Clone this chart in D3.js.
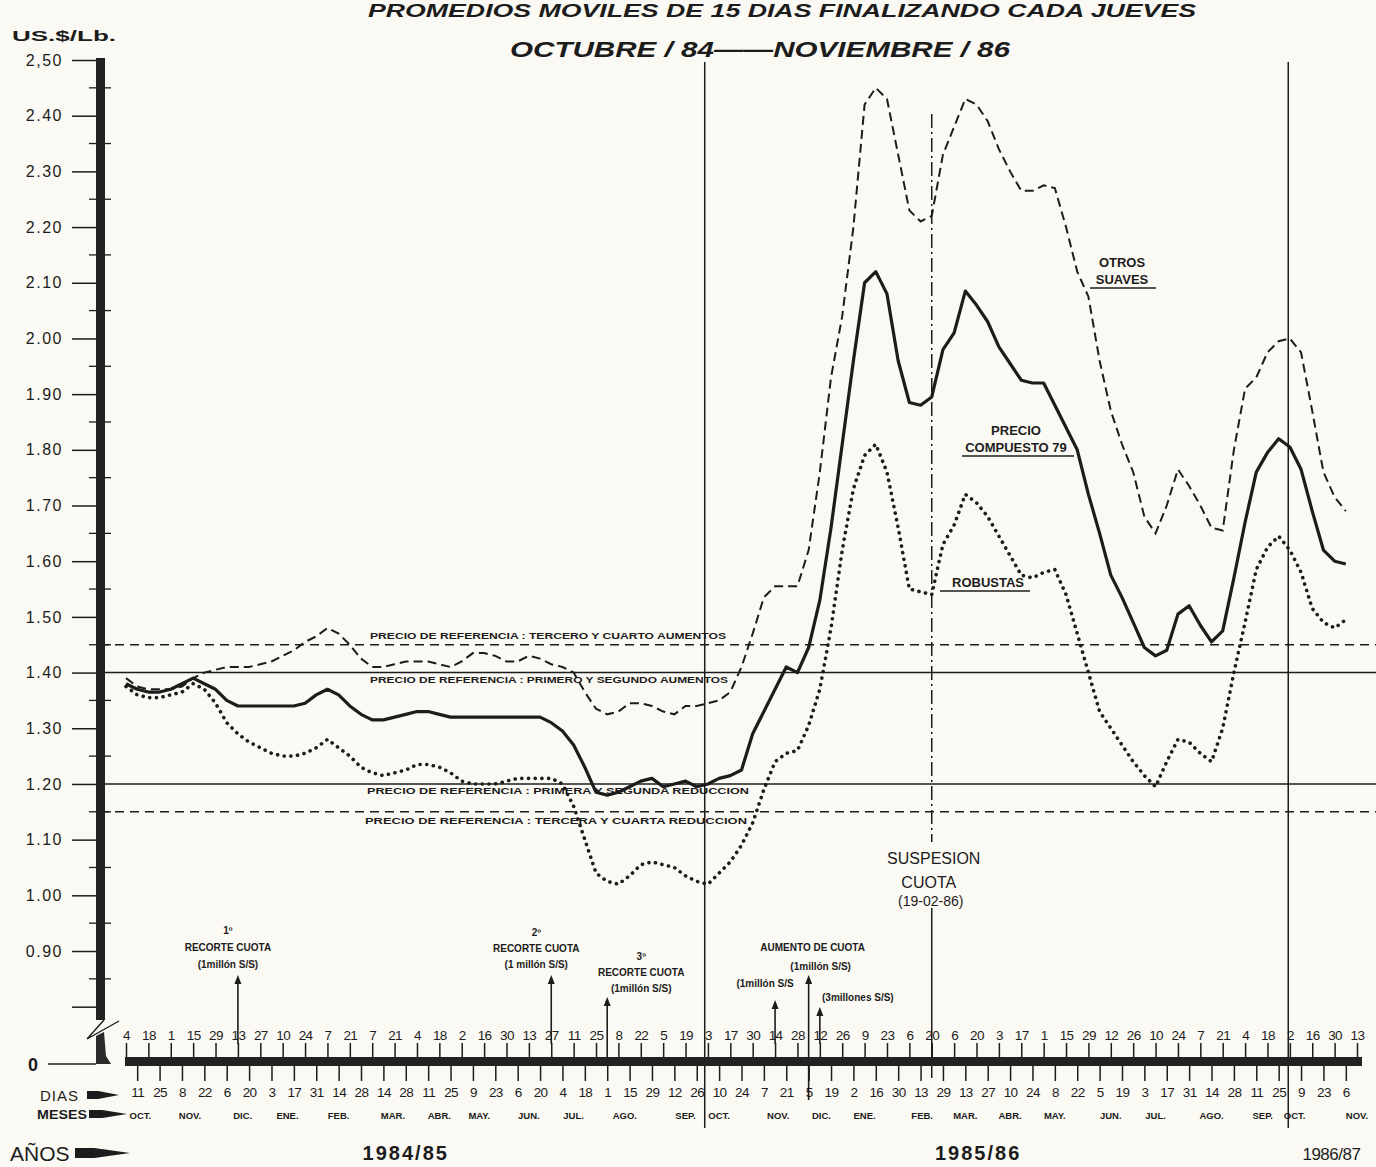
<!DOCTYPE html>
<html>
<head>
<meta charset="utf-8">
<script src="https://cdn.jsdelivr.net/npm/d3@7"></script>
<style>
  html, body { margin: 0; padding: 0; background: #fbf9f3; }
  svg { display: block; font-family: "Liberation Sans", Arial, sans-serif; }
  text { fill: #1c1c1c; }
</style>
</head>
<body>
<svg id="chart" width="1376" height="1167"></svg>
<script>
// weekly 15-day moving averages, one value per Thursday from 4 Oct 1984
var composite = [
  1.38, 1.37, 1.365, 1.365, 1.37, 1.38, 1.39, 1.38, 1.37, 1.35,
  1.34, 1.34, 1.34, 1.34, 1.34, 1.34, 1.345, 1.36, 1.37, 1.36,
  1.34, 1.325, 1.315, 1.315, 1.32, 1.325, 1.33, 1.33, 1.325, 1.32,
  1.32, 1.32, 1.32, 1.32, 1.32, 1.32, 1.32, 1.32, 1.31, 1.295,
  1.27, 1.23, 1.185, 1.18, 1.185, 1.195, 1.205, 1.21, 1.195, 1.20,
  1.205, 1.195, 1.20, 1.21, 1.215, 1.225, 1.29, 1.33, 1.37, 1.41,
  1.40, 1.445, 1.53, 1.66, 1.81, 1.96, 2.10, 2.12, 2.08, 1.96,
  1.885, 1.88, 1.895, 1.98, 2.01, 2.085, 2.06, 2.03, 1.985, 1.955,
  1.925, 1.92, 1.92, 1.88, 1.84, 1.80, 1.72, 1.65, 1.575, 1.535,
  1.49, 1.445, 1.43, 1.44, 1.505, 1.52, 1.485, 1.455, 1.475, 1.57,
  1.67, 1.76, 1.795, 1.82, 1.805, 1.765, 1.69, 1.62, 1.60, 1.595
];
var otrosSuaves = [
  1.39, 1.375, 1.37, 1.37, 1.37, 1.375, 1.39, 1.40, 1.405, 1.41,
  1.41, 1.41, 1.415, 1.42, 1.43, 1.44, 1.455, 1.465, 1.48, 1.47,
  1.45, 1.425, 1.41, 1.41, 1.415, 1.42, 1.42, 1.42, 1.415, 1.41,
  1.42, 1.435, 1.435, 1.43, 1.42, 1.42, 1.43, 1.425, 1.415, 1.41,
  1.40, 1.365, 1.335, 1.325, 1.33, 1.345, 1.345, 1.34, 1.33, 1.325,
  1.34, 1.34, 1.345, 1.35, 1.365, 1.41, 1.47, 1.535, 1.555, 1.555,
  1.555, 1.62, 1.76, 1.93, 2.04, 2.20, 2.42, 2.45, 2.43, 2.33,
  2.23, 2.21, 2.22, 2.33, 2.38, 2.43, 2.42, 2.39, 2.34, 2.30,
  2.265, 2.265, 2.275, 2.27, 2.20, 2.12, 2.075, 1.96, 1.87, 1.81,
  1.76, 1.68, 1.65, 1.70, 1.765, 1.735, 1.70, 1.66, 1.655, 1.80,
  1.91, 1.93, 1.975, 1.995, 2.00, 1.975, 1.87, 1.76, 1.715, 1.69
];
var robustas = [
  1.375, 1.36, 1.355, 1.355, 1.36, 1.365, 1.38, 1.37, 1.345, 1.31,
  1.29, 1.275, 1.265, 1.255, 1.25, 1.25, 1.255, 1.265, 1.28, 1.265,
  1.25, 1.23, 1.22, 1.215, 1.22, 1.225, 1.235, 1.235, 1.23, 1.22,
  1.205, 1.20, 1.20, 1.20, 1.205, 1.21, 1.21, 1.21, 1.21, 1.20,
  1.16, 1.10, 1.04, 1.025, 1.02, 1.035, 1.055, 1.06, 1.055, 1.05,
  1.035, 1.025, 1.02, 1.04, 1.06, 1.09, 1.13, 1.19, 1.24, 1.255,
  1.26, 1.305, 1.37, 1.48, 1.62, 1.73, 1.79, 1.81, 1.76, 1.66,
  1.55, 1.545, 1.54, 1.63, 1.665, 1.72, 1.705, 1.68, 1.645, 1.61,
  1.575, 1.57, 1.58, 1.585, 1.54, 1.47, 1.40, 1.33, 1.30, 1.27,
  1.24, 1.215, 1.195, 1.24, 1.28, 1.275, 1.255, 1.24, 1.30, 1.40,
  1.49, 1.585, 1.625, 1.645, 1.62, 1.58, 1.515, 1.49, 1.48, 1.495
];

// day labels for the alternate Thursdays, above and below the axis bar
var topDays = [4, 18, 1, 15, 29, 13, 27, 10, 24, 7, 21, 7, 21, 4, 18, 2, 16, 30, 13, 27,
  11, 25, 8, 22, 5, 19, 3, 17, 30, 14, 28, 12, 26, 9, 23, 6, 20, 6, 20, 3,
  17, 1, 15, 29, 12, 26, 10, 24, 7, 21, 4, 18, 2, 16, 30, 13];
var bottomDays = [11, 25, 8, 22, 6, 20, 3, 17, 31, 14, 28, 14, 28, 11, 25, 9, 23, 6, 20, 4,
  18, 1, 15, 29, 12, 26, 10, 24, 7, 21, 5, 19, 2, 16, 30, 13, 29, 13, 27, 10,
  24, 8, 22, 5, 19, 3, 17, 31, 14, 28, 11, 25, 9, 23, 6];

var monthLabels = ['OCT.', 'NOV.', 'DIC.', 'ENE.', 'FEB.', 'MAR.', 'ABR.', 'MAY.', 'JUN.', 'JUL.', 'AGO.', 'SEP.',
  'OCT.', 'NOV.', 'DIC.', 'ENE.', 'FEB.', 'MAR.', 'ABR.', 'MAY.', 'JUN.', 'JUL.', 'AGO.', 'SEP.', 'OCT.', 'NOV.'];
var monthDates = ['1984-10-13', '1984-11-13', '1984-12-16', '1985-01-13', '1985-02-14', '1985-03-20',
  '1985-04-18', '1985-05-13', '1985-06-13', '1985-07-11', '1985-08-12', '1985-09-19',
  '1985-10-10', '1985-11-16', '1985-12-13', '1986-01-09', '1986-02-14', '1986-03-13',
  '1986-04-10', '1986-05-08', '1986-06-12', '1986-07-10', '1986-08-14', '1986-09-15',
  '1986-10-05', '1986-11-13'];

var yearLabels = ['1984/85', '1985/86', '1986/87'];
var yearDates = ['1985-03-28', '1986-03-21', '1986-10-28'];

var yTicks = [0.8, 0.9, 1.0, 1.1, 1.2, 1.3, 1.4, 1.5, 1.6, 1.7, 1.8, 1.9, 2.0, 2.1, 2.2, 2.3, 2.4, 2.5];
var yTickLabels = ['', '0.90', '1.00', '1.10', '1.20', '1.30', '1.40', '1.50', '1.60', '1.70', '1.80',
  '1.90', '2.00', '2.10', '2.20', '2.30', '2.40', '2,50'];

var refValues = [1.45, 1.40, 1.20, 1.15];
var refDashed = [true, false, false, true];
var refLabels = [
  'PRECIO DE REFERENCIA : TERCERO Y CUARTO AUMENTOS',
  'PRECIO DE REFERENCIA : PRIMERO Y SEGUNDO AUMENTOS',
  'PRECIO DE REFERENCIA : PRIMERA Y SEGUNDA REDUCCION',
  'PRECIO DE REFERENCIA : TERCERA Y CUARTA REDUCCION'
];

// quota events marked with arrows
var eventDates = ['1984-12-13', '1985-06-27', '1985-08-01', '1985-11-14', '1985-12-05', '1985-12-12'];

(function draw () {
  'use strict';

  var svg = d3.select('#chart');
  var ink = '#1c1c1c';
  var parse = d3.timeParse('%Y-%m-%d');

  var start = new Date(1984, 9, 4);
  var end = new Date(1986, 10, 13);
  var weeks = d3.timeThursday.range(start, d3.timeDay.offset(end, 1));

  var x = d3.scaleTime().domain([start, end]).range([126, 1357]);
  var y = d3.scaleLinear().domain([0.8, 2.5]).range([1006.7, 60]);

  var axisTop = 1057;
  var axisBottom = 1066;

  // ---- titles
  svg.append('text')
    .attr('x', 782).attr('y', 17)
    .attr('text-anchor', 'middle')
    .attr('font-size', 18).attr('font-style', 'italic').attr('font-weight', 'bold')
    .attr('textLength', 828).attr('lengthAdjust', 'spacingAndGlyphs')
    .text('PROMEDIOS MOVILES DE 15 DIAS FINALIZANDO CADA JUEVES');

  svg.append('text')
    .attr('x', 760).attr('y', 57)
    .attr('text-anchor', 'middle')
    .attr('font-size', 22).attr('font-style', 'italic').attr('font-weight', 'bold')
    .attr('textLength', 500).attr('lengthAdjust', 'spacingAndGlyphs')
    .text('OCTUBRE / 84\u2014\u2014NOVIEMBRE / 86');

  svg.append('text')
    .attr('x', 12).attr('y', 41)
    .attr('font-size', 15).attr('font-weight', 'bold')
    .attr('textLength', 104).attr('lengthAdjust', 'spacingAndGlyphs')
    .text('US.$/Lb.');

  // ---- reference price lines
  var refs = svg.append('g').attr('class', 'refs');
  refValues.forEach(function (v, i) {
    refs.append('line')
      .attr('x1', 100).attr('x2', 1376)
      .attr('y1', y(v)).attr('y2', y(v))
      .attr('stroke', ink).attr('stroke-width', 1.4)
      .attr('stroke-dasharray', refDashed[i] ? '9 6' : null);
  });
  var refLabelPos = [
    { x: 370, dy: -6, w: 356 },
    { x: 370, dy: 10, w: 358 },
    { x: 367, dy: 10, w: 382 },
    { x: 365, dy: 12, w: 382 }
  ];
  refLabels.forEach(function (t, i) {
    refs.append('text')
      .attr('x', refLabelPos[i].x)
      .attr('y', y(refValues[i]) + refLabelPos[i].dy)
      .attr('font-size', 9.5).attr('font-weight', 'bold')
      .attr('textLength', refLabelPos[i].w).attr('lengthAdjust', 'spacingAndGlyphs')
      .text(t);
  });

  // ---- vertical markers
  var marks = svg.append('g').attr('class', 'markers')
    .attr('stroke', ink).attr('stroke-width', 1.5);
  [new Date(1985, 9, 1), new Date(1986, 9, 1)].forEach(function (d) {
    marks.append('line')
      .attr('x1', x(d)).attr('x2', x(d))
      .attr('y1', 62).attr('y2', 1128);
  });
  var suspension = new Date(1986, 1, 20);
  marks.append('line')
    .attr('x1', x(suspension)).attr('x2', x(suspension))
    .attr('y1', 114).attr('y2', 842)
    .attr('stroke-dasharray', '14 4 2 4');
  marks.append('line')
    .attr('x1', x(suspension)).attr('x2', x(suspension))
    .attr('y1', 908).attr('y2', axisBottom + 12);

  var susp = svg.append('g').attr('font-size', 16).attr('text-anchor', 'middle');
  susp.append('text').attr('x', x(suspension) + 2).attr('y', 864).text('SUSPESION');
  susp.append('text').attr('x', x(suspension) - 3).attr('y', 888).text('CUOTA');
  susp.append('text').attr('x', x(suspension) - 1).attr('y', 906)
    .attr('font-size', 14).text('(19-02-86)');

  // ---- series
  var line = d3.line()
    .x(function (d, i) { return x(weeks[i]); })
    .y(function (d) { return y(d); });

  svg.append('path').datum(otrosSuaves)
    .attr('d', line).attr('fill', 'none')
    .attr('stroke', ink).attr('stroke-width', 2)
    .attr('stroke-dasharray', '9 5');

  svg.append('path').datum(robustas)
    .attr('d', line).attr('fill', 'none')
    .attr('stroke', ink).attr('stroke-width', 3.6)
    .attr('stroke-linecap', 'round')
    .attr('stroke-dasharray', '0.1 6.6');

  svg.append('path').datum(composite)
    .attr('d', line).attr('fill', 'none')
    .attr('stroke', ink).attr('stroke-width', 3.2)
    .attr('stroke-linejoin', 'round');

  // ---- series labels
  var lab = svg.append('g').attr('font-size', 13).attr('font-weight', 'bold');
  function seriesLabel (lines, cx, cy, underlineRow, ux1, ux2) {
    lines.forEach(function (t, i) {
      lab.append('text')
        .attr('x', cx).attr('y', cy + i * 17)
        .attr('text-anchor', 'middle')
        .text(t);
    });
    lab.append('line')
      .attr('x1', ux1).attr('x2', ux2)
      .attr('y1', cy + underlineRow * 17 + 4).attr('y2', cy + underlineRow * 17 + 4)
      .attr('stroke', ink).attr('stroke-width', 1.4);
  }
  seriesLabel(['OTROS', 'SUAVES'], 1122, 267, 1, 1090, 1156);
  seriesLabel(['PRECIO', 'COMPUESTO 79'], 1016, 435, 1, 962, 1074);
  seriesLabel(['ROBUSTAS'], 988, 587, 0, 940, 1030);

  // ---- quota event arrows
  var ev = eventDates.map(parse);
  var arrowTops = [975, 975, 997, 1000, 975, 1007];
  var arrowBottoms = [1044, 1044, 1057, 1044, 1100, 1044];
  var arrows = svg.append('g').attr('stroke', ink).attr('fill', ink);
  ev.forEach(function (d, i) {
    var ax = x(d);
    arrows.append('line')
      .attr('x1', ax).attr('x2', ax)
      .attr('y1', arrowTops[i] + 4).attr('y2', arrowBottoms[i])
      .attr('stroke-width', 1.6);
    arrows.append('path')
      .attr('d', 'M' + ax + ',' + arrowTops[i] + 'l-3.5,9h7z')
      .attr('stroke', 'none');
  });

  var ann = svg.append('g').attr('font-size', 10).attr('font-weight', 'bold').attr('text-anchor', 'middle');
  function annot (lines, cx, cy, step) {
    lines.forEach(function (t, i) {
      ann.append('text').attr('x', cx).attr('y', cy + i * step).text(t);
    });
  }
  annot(['1\u00ba', 'RECORTE CUOTA', '(1mill\u00f3n  S/S)'], x(ev[0]) - 10, 934, 17);
  annot(['2\u00ba', 'RECORTE CUOTA', '(1 mill\u00f3n S/S)'], x(ev[1]) - 15, 936, 16);
  annot(['3\u00ba', 'RECORTE CUOTA', '(1mill\u00f3n S/S)'], x(ev[2]) + 34, 960, 16);
  annot(['AUMENTO DE CUOTA'], x(ev[4]) + 4, 951, 0);
  annot(['(1mill\u00f3n S/S)'], x(ev[4]) + 12, 970, 0);
  annot(['(1mill\u00f3n S/S'], x(ev[3]) - 10, 987, 0);
  annot(['(3millones S/S)'], x(ev[5]) + 38, 1001, 0);

  // ---- y axis
  var yAxis = d3.axisLeft(y)
    .tickValues(yTicks)
    .tickFormat(function (d, i) { return yTickLabels[i]; })
    .tickSize(28).tickPadding(9);
  var gy = svg.append('g').attr('transform', 'translate(100,0)').call(yAxis);
  gy.select('.domain').remove();
  gy.selectAll('.tick line').attr('stroke', ink).attr('stroke-width', 1.5);
  gy.selectAll('.tick text')
    .attr('font-size', 16).attr('font-family', '"Liberation Sans", Arial, sans-serif')
    .attr('fill', '#2a2a2a').attr('letter-spacing', 1.5);

  var minor = d3.range(0.85, 2.5, 0.1);
  svg.append('g').selectAll('line').data(minor).join('line')
    .attr('x1', 89).attr('x2', 111)
    .attr('y1', function (d) { return y(d); }).attr('y2', function (d) { return y(d); })
    .attr('stroke', ink).attr('stroke-width', 1.3);

  // thick y bar with the axis break
  svg.append('rect').attr('x', 96).attr('y', 58).attr('width', 9).attr('height', 962).attr('fill', '#222');
  svg.append('line').attr('x1', 100).attr('x2', 105).attr('y1', 59).attr('y2', 59)
    .attr('stroke', ink).attr('stroke-width', 2);
  svg.append('path')
    .attr('d', 'M104,1020 L87,1039 L119,1021')
    .attr('fill', 'none').attr('stroke', ink).attr('stroke-width', 1.4);
  svg.append('path')
    .attr('d', 'M96,1036 L104,1032 L106,1056 L111,1064 L96,1064 Z')
    .attr('fill', '#2a2a2a');
  svg.append('line').attr('x1', 48).attr('x2', 96).attr('y1', 1064).attr('y2', 1064)
    .attr('stroke', ink).attr('stroke-width', 1.5);
  svg.append('text').attr('x', 28).attr('y', 1071).attr('font-size', 18).attr('font-weight', 'bold').text('0');

  // ---- x axis: thick bar and the two rows of day ticks
  svg.append('rect')
    .attr('x', x(start) - 1).attr('y', axisTop)
    .attr('width', x(end) - x(start) + 6).attr('height', axisBottom - axisTop)
    .attr('fill', '#222');

  var topWeeks = weeks.filter(function (d, i) { return i % 2 === 0; });
  var bottomWeeks = weeks.filter(function (d, i) { return i % 2 === 1; });

  var gxTop = svg.append('g').attr('transform', 'translate(0,' + axisTop + ')')
    .call(d3.axisTop(x).tickValues(topWeeks)
      .tickFormat(function (d, i) { return topDays[i]; })
      .tickSize(14).tickPadding(3));
  var gxBottom = svg.append('g').attr('transform', 'translate(0,' + axisBottom + ')')
    .call(d3.axisBottom(x).tickValues(bottomWeeks)
      .tickFormat(function (d, i) { return bottomDays[i]; })
      .tickSize(15).tickPadding(6));
  [gxTop, gxBottom].forEach(function (g) {
    g.select('.domain').remove();
    g.selectAll('.tick line').attr('stroke', ink).attr('stroke-width', 1.5);
    g.selectAll('.tick text')
      .attr('font-size', 13.5).attr('fill', ink)
      .attr('font-family', '"Liberation Sans", Arial, sans-serif')
      .attr('letter-spacing', -0.6);
  });

  // months and years
  svg.append('g').selectAll('text').data(monthLabels).join('text')
    .attr('x', function (d, i) { return x(parse(monthDates[i])); })
    .attr('y', 1119)
    .attr('text-anchor', 'middle')
    .attr('font-size', 9.5).attr('font-weight', 'bold')
    .text(function (d) { return d; });

  svg.append('g').selectAll('text').data(yearLabels).join('text')
    .attr('x', function (d, i) { return x(parse(yearDates[i])); })
    .attr('y', 1160)
    .attr('text-anchor', 'middle')
    .attr('font-size', function (d, i) { return i < 2 ? 20 : 17; })
    .attr('font-weight', function (d, i) { return i < 2 ? 'bold' : 'normal'; })
    .attr('letter-spacing', function (d, i) { return i < 2 ? 2 : -0.5; })
    .text(function (d) { return d; });

  // row captions with pennant arrows
  function pennant (x0, cy, len, h) {
    svg.append('path')
      .attr('d', 'M' + x0 + ',' + (cy - h) + 'L' + (x0 + len * 0.35) + ',' + (cy - h) +
        'L' + (x0 + len) + ',' + cy + 'L' + (x0 + len * 0.35) + ',' + (cy + h) +
        'L' + x0 + ',' + (cy + h) + 'Z')
      .attr('fill', ink);
  }
  svg.append('text').attr('x', 40).attr('y', 1101).attr('font-size', 15)
    .attr('letter-spacing', 1).text('DIAS');
  pennant(87, 1095, 32, 4);
  svg.append('text').attr('x', 37).attr('y', 1119).attr('font-size', 12).attr('font-weight', 'bold')
    .attr('textLength', 50).attr('lengthAdjust', 'spacingAndGlyphs').text('MESES');
  pennant(89, 1114, 38, 4);
  svg.append('text').attr('x', 10).attr('y', 1161).attr('font-size', 21).text('A\u00d1OS');
  pennant(75, 1153, 55, 5);
})();
</script>
</body>
</html>
